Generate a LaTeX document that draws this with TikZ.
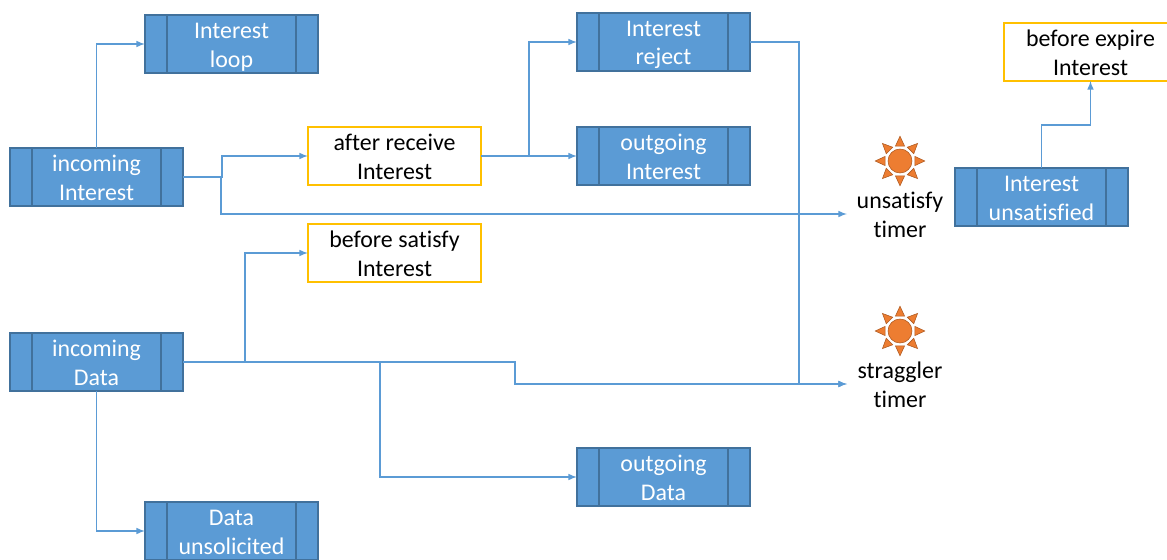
\documentclass[tikz,border=0pt]{standalone}
\usepackage{fontspec}
\setmainfont[Ligatures=NoCommon]{Carlito}
\usetikzlibrary{arrows,calc,positioning}
\definecolor{boxblue}{HTML}{5B9BD5}
\definecolor{boxedge}{HTML}{41719C}
\definecolor{hookedge}{HTML}{FFC000}
\definecolor{sunfill}{HTML}{ED7D31}
\definecolor{sunedge}{HTML}{AE5A21}
\tikzset{%
  font=\fontsize{17}{20.6}\selectfont,>=latex,
  block/.style    = {rectangle, draw=boxedge, line width=.9pt, fill=boxblue, text=white, minimum width=4.325cm, minimum height=1.45cm, inner sep=0pt, outer sep=0pt, text height=1.2cm, text depth=.05cm, align=center, anchor=north west},
  hook/.style     = {rectangle, draw=hookedge, line width=.9pt, fill=white, minimum width=4.325cm, minimum height=1.45cm, inner sep=0pt, outer sep=0pt, text height=1.2cm, text depth=.05cm, align=center, anchor=north west},
  sun/.style      = {circle, draw=sunedge, fill=sunfill, minimum size=.6cm, inner sep=0pt, outer sep=0pt},
  timer/.style    = {rectangle, minimum width=2.65cm, inner sep=0pt, outer sep=0pt, text height=1.2cm, text depth=.05cm, align=center},
  line/.style     = {draw=boxblue, line width=1.1pt, ->}
}
\begin{document}
\begin{tikzpicture}
	\useasboundingbox (0,0) rectangle (29.175,-14);
	
	\node[block] at (.25,-3.7) (incoming interest) {incoming \\ Interest};
	\node[block] at ([xshift=3.375cm,yshift=3.325cm] incoming interest.north west) (interest loop) {Interest \\ loop};
	\node[hook] at ([xshift=3.125cm,yshift=.525cm] incoming interest.north east) (after receive) {after receive \\ Interest};
	\node[block] at ([xshift=2.4cm,yshift=2.85cm] after receive.north east) (interest reject) {Interest \\ reject};
	\node[block] at ([xshift=2.4cm] after receive.north east) (outgoing interest) {outgoing \\ Interest};
	\node[hook] at ([yshift=-.975cm] after receive.south west) (before satisfy) {before satisfy \\ Interest};
	\node[block] at ([yshift=-3.175cm] incoming interest.south west) (incoming data) {incoming \\ Data};
	\node[block] at ([xshift=3.375cm,yshift=-2.775cm] incoming data.south west) (data unsolicited) {Data \\ unsolicited};
	\node[block] at ([yshift=-6.575cm] outgoing interest.south west) (outgoing data) {outgoing \\ Data};
	\node[block] at ([xshift=5.125cm,yshift=-1.025cm] outgoing interest.north east) (interest unsatisfied) {Interest \\ unsatisfied};
	\node[hook] at ([xshift=1.225cm,yshift=3.625cm] interest unsatisfied.north west) (before expire) {before expire \\ Interest};
	
	\node[sun] at ([xshift=-1.375cm,yshift=.9cm] interest unsatisfied.west) (unsatisfy sun) {};
	\node[sun] at ([yshift=-4.25cm] unsatisfy sun.center) (straggler sun) {};
	\node[timer] at ([yshift=-1.325cm] unsatisfy sun.center) (unsatisfy timer) {unsatisfy \\ timer};
	\node[timer] at ([yshift=-1.325cm] straggler sun.center) (straggler timer) {straggler \\ timer};
	
	\foreach \n in {incoming interest,interest loop,interest reject,outgoing interest,incoming data,data unsolicited,outgoing data,interest unsatisfied} {%
		\draw[boxedge,line width=.9pt] ([xshift=.55cm] \n.north west) -- ([xshift=.55cm] \n.south west);
		\draw[boxedge,line width=.9pt] ([xshift=-.55cm] \n.north east) -- ([xshift=-.55cm] \n.south east);
	}
	\foreach \n in {unsatisfy sun,straggler sun} {%
		\foreach \a in {0,45,...,315} {%
			\draw[draw=sunedge,fill=sunfill] ([shift={(\a:.62cm)}] \n.center) -- ([shift={(\a+17:.39cm)}] \n.center) -- ([shift={(\a-17:.39cm)}] \n.center) -- cycle;
		}
	}
	
	\begin{scope}[every path/.style={line}]
	\draw (incoming interest.north) |- (interest loop.west);
	\draw (incoming interest.east) -- ++(.975,0) |- (after receive.west);
	\draw (incoming interest.east) -- ++(.95,0) |- (unsatisfy timer.west);
	\draw (after receive.east) -- ++(1.2,0) |- (interest reject.west);
	\draw (after receive.east) -- (outgoing interest.west);
	\draw (interest reject.east) -- ++(1.225,0) |- (straggler timer.west);
	\draw (incoming data.east) -- ++(1.55,0) |- (before satisfy.west);
	\draw (incoming data.east) -- ++(8.3,0) |- (straggler timer.west);
	\draw (incoming data.east) -- ++(4.925,0) |- (outgoing data.west);
	\draw (incoming data.south) |- (data unsolicited.west);
	\draw (interest unsatisfied.north) -- ++(0,1.075) -| (before expire.south);
	\end{scope}
\end{tikzpicture}
\end{document}
